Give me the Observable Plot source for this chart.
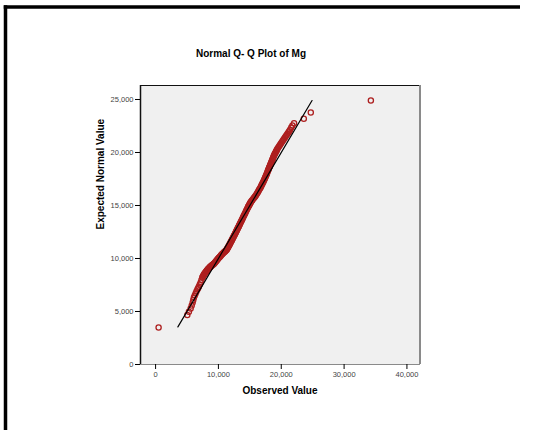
<!DOCTYPE html>
<html>
<head>
<meta charset="utf-8">
<script src="https://cdn.jsdelivr.net/npm/d3@7"></script>
<script src="https://cdn.jsdelivr.net/npm/@observablehq/plot@0.6"></script>
<style>
  html, body { margin: 0; padding: 0; background: #fff; overflow: hidden; }
  #wrap { position: relative; width: 533px; height: 430px; overflow: hidden; background: #fff; }
  #chart { position: absolute; left: 0; top: 0; }
</style>
</head>
<body>
<div id="wrap"><div id="chart"></div></div>
<script>
const title = "Normal Q- Q Plot of Mg";
const xTitle = "Observed Value";
const yTitle = "Expected Normal Value";
const xTicks = [0, 10000, 20000, 30000, 40000];
const yTicks = [0, 5000, 10000, 15000, 20000, 25000];
const xDomain = [-2400, 42000];
const yDomain = [0, 26320];
const refLine = [3550, 24900];

const observed = [
  480, 5050, 5300, 5580, 5750, 5900, 6000, 6100, 6230, 6370, 6500, 6650, 6780, 6900, 7030, 7170,
  7300, 7440, 7500, 7570, 7640, 7700, 7760, 7830, 7900, 7970, 8030, 8100, 8170, 8240, 8300, 8370,
  8430, 8500, 8570, 8630, 8700, 8760, 8820, 8890, 8950, 9020, 9090, 9160, 9220, 9290, 9370, 9450,
  9530, 9610, 9690, 9770, 9850, 9930, 10010, 10100, 10190, 10280, 10360, 10450, 10540, 10630,
  10710, 10800, 10880, 10970, 11050, 11140, 11220, 11310, 11380, 11440, 11510, 11580, 11640,
  11710, 11770, 11840, 11900, 11970, 12040, 12110, 12170, 12240, 12310, 12380, 12440, 12510,
  12580, 12650, 12710, 12780, 12840, 12910, 12970, 13040, 13100, 13170, 13230, 13300, 13360,
  13430, 13510, 13590, 13670, 13750, 13830, 13910, 13990, 14070, 14150, 14230, 14310, 14390,
  14470, 14550, 14630, 14710, 14760, 14820, 14870, 14930, 14980, 15040, 15090, 15140, 15240,
  15340, 15440, 15540, 15640, 15740, 15840, 15940, 16040, 16140, 16240, 16340, 16430, 16530,
  16630, 16730, 16810, 16890, 16970, 17050, 17130, 17210, 17290, 17370, 17430, 17500, 17570,
  17640, 17700, 17770, 17830, 17900, 17950, 18010, 18060, 18120, 18170, 18220, 18270, 18330,
  18390, 18460, 18520, 18590, 18650, 18720, 18780, 18850, 18920, 18990, 19050, 19120, 19190,
  19260, 19320, 19390, 19520, 19660, 19790, 19920, 20050, 20190, 20320, 20450, 20590, 20720,
  20860, 20990, 21130, 21260, 21400, 21590, 21780, 22040, 23590, 24700, 34260
];
const expected = [
  3490, 4670, 4980, 5280, 5560, 5850, 6080, 6320, 6510, 6700, 6890, 7080, 7220, 7360, 7550, 7740,
  7970, 8210, 8280, 8350, 8420, 8490, 8540, 8600, 8650, 8710, 8760, 8810, 8870, 8920, 8960, 9000,
  9050, 9090, 9130, 9170, 9210, 9250, 9280, 9310, 9350, 9380, 9410, 9440, 9470, 9500, 9560, 9620,
  9680, 9740, 9790, 9850, 9910, 9970, 10030, 10090, 10140, 10200, 10260, 10320, 10380, 10440,
  10480, 10530, 10580, 10630, 10670, 10720, 10770, 10820, 10890, 10960, 11030, 11100, 11170,
  11250, 11320, 11390, 11470, 11550, 11620, 11700, 11780, 11860, 11930, 12010, 12090, 12170,
  12250, 12330, 12400, 12480, 12560, 12640, 12720, 12800, 12870, 12950, 13030, 13110, 13190,
  13270, 13370, 13470, 13560, 13660, 13760, 13860, 13960, 14060, 14150, 14250, 14350, 14450,
  14540, 14640, 14740, 14840, 14900, 14960, 15020, 15080, 15130, 15190, 15250, 15310, 15390,
  15470, 15540, 15620, 15700, 15780, 15860, 15940, 16040, 16140, 16230, 16330, 16430, 16530,
  16630, 16730, 16830, 16930, 17030, 17130, 17220, 17320, 17420, 17520, 17610, 17710, 17810,
  17910, 18000, 18100, 18200, 18300, 18380, 18460, 18540, 18620, 18690, 18770, 18850, 18930,
  19030, 19130, 19230, 19330, 19420, 19520, 19620, 19720, 19800, 19880, 19950, 20030, 20110,
  20190, 20270, 20350, 20470, 20590, 20700, 20820, 20940, 21060, 21170, 21290, 21410, 21530,
  21640, 21760, 21890, 22010, 22140, 22350, 22550, 22760, 23180, 23770, 24910
];

const pts = observed.map((x, i) => ({x, y: expected[i]}));
const line = refLine.map(v => ({x: v, y: v}));
const fmt = d3.format(",");
const font = "'Liberation Sans', Arial, sans-serif";

const chart = Plot.plot({
  width: 533,
  height: 430,
  marginLeft: 140,
  marginRight: 114,
  marginTop: 85,
  marginBottom: 66,
  style: {fontFamily: font, background: "transparent", overflow: "visible"},
  x: {domain: xDomain, label: null},
  y: {domain: yDomain, label: null},
  marks: [
    Plot.frame({fill: "#f0f0f0", stroke: "#8a8a8a", strokeWidth: 1}),
    Plot.ruleX([xDomain[1]], {stroke: "#8a8a8a", strokeWidth: 2, dx: 0.5}),
    Plot.ruleY([yDomain[1]], {stroke: "#111", strokeWidth: 1.2}),
    Plot.ruleX([xDomain[0]], {stroke: "#111", strokeWidth: 1.5}),
    Plot.axisX({ticks: xTicks, tickFormat: fmt, tickSize: 5, tickPadding: 2, fontSize: 7.5,
                stroke: "#000", fill: "#444", label: null}),
    Plot.axisY({ticks: yTicks, tickFormat: fmt, tickSize: 5, tickPadding: 2, fontSize: 7.5,
                stroke: "#000", fill: "#444", label: null}),
    Plot.dot(pts, {x: "x", y: "y", r: 2.6, stroke: "#ad1f1f", strokeWidth: 1.3, fill: "none"}),
    Plot.line(line, {x: "x", y: "y", stroke: "#000", strokeWidth: 1.2}),
    Plot.text([title], {frameAnchor: "top", text: d => d, dx: -29, dy: -32, fontSize: 10,
                        fontWeight: "bold", fill: "#000", lineAnchor: "middle"}),
    Plot.text([xTitle], {frameAnchor: "bottom", text: d => d, dy: 26, fontSize: 10,
                         fontWeight: "bold", fill: "#000", lineAnchor: "middle"}),
    Plot.text([yTitle], {frameAnchor: "left", text: d => d, dx: -40, dy: 4.5, rotate: -90,
                         fontSize: 10, fontWeight: "bold", fill: "#000", lineAnchor: "middle"})
  ]
});
// decorative page border (top and left edges, as in the source screenshot)
const deco = d3.select(chart).append("g").attr("stroke", "#000").attr("fill", "none");
deco.append("path").attr("d", "M5.5,430V5.25").attr("stroke-width", 3.5);
deco.append("path").attr("d", "M3.75,7H520").attr("stroke-width", 3.5);
document.getElementById("chart").appendChild(chart);
</script>
</body>
</html>
